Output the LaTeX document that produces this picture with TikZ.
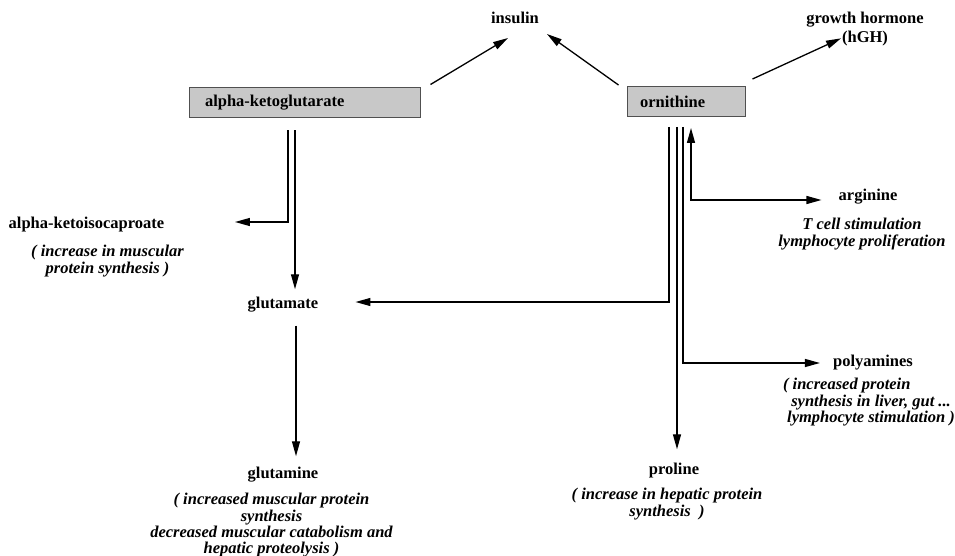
\documentclass[tikz,border=0pt]{standalone}
\usepackage{fontspec}
\setmainfont{Liberation Serif}
\usetikzlibrary{arrows.meta,positioning}
\definecolor{boxfill}{RGB}{200,200,200}
\definecolor{boxline}{RGB}{80,80,80}

\begin{document}
\begin{tikzpicture}[
  x=1pt, y=-1pt,
  font=\fontsize{16.5}{16.3}\selectfont,
  lbl/.style={inner sep=0pt, font=\fontsize{16.5}{16.3}\selectfont\bfseries},
  note/.style={inner sep=0pt, align=center, font=\fontsize{16.5}{16.3}\selectfont\bfseries\itshape},
  src/.style={draw=boxline, fill=boxfill, line width=1pt, minimum height=30pt, inner ysep=0pt, align=left, font=\fontsize{16.5}{16.3}\selectfont\bfseries},
  ln/.style={line width=1.3pt},
  ar/.style={ln, -{Triangle[length=15pt,width=8pt]}},
  arb/.style={ln, {Triangle[length=15pt,width=8pt]}-{Triangle[length=15pt,width=8pt]}}
]
\useasboundingbox (0,0) rectangle (955,556);

% sources
\node[src, text width=199pt, inner xsep=16pt] (akg) at (304.5,103) {alpha-ketoglutarate};
\node[src, text width=92pt, inner xsep=13pt] (orn) at (686,101.5) {ornithine};

% products
\node[lbl] (ins) at (515,18) {insulin};
\node[lbl, align=center] (hgh) at (865,29) {growth hormone\\[3pt](hGH)};
\node[lbl] (aki) at (86.5,225) {alpha-ketoisocaproate};
\node[note, below=12.5pt of aki, xshift=21pt] (akinote) {( increase in muscular\\protein synthesis )};
\node[lbl] (glu) at (283,305) {glutamate};
\node[lbl] (gln) at (283,475) {glutamine};
\node[note, below=10.5pt of gln, xshift=-11.5pt] (glnnote)
  {( increased muscular protein\\synthesis\\decreased muscular catabolism and\\hepatic proteolysis )};
\node[lbl] (arg) at (868,197) {arginine};
\node[note, below=13.5pt of arg, xshift=-6pt] (argnote) {T cell stimulation\\lymphocyte proliferation};
\node[lbl] (pol) at (873,363) {polyamines};
\node[note, align=left, below=7.5pt of pol, xshift=-4pt] (polnote)
  {( increased protein\\\ \ synthesis in liver, gut ...\\\ lymphocyte stimulation )};
\node[lbl] (pro) at (674,471) {proline};
\node[note, below=9.5pt of pro, xshift=-7pt] (pronote) {( increase in hepatic protein\\synthesis \ )};

% line starts under the boxes
\coordinate (akgL) at ([shift={(-16.5,12)}]akg.south);
\coordinate (akgR) at ([shift={(-9.5,12)}]akg.south);
\coordinate (ornA) at ([shift={(-17,10)}]orn.south);
\coordinate (ornB) at ([shift={(-9,10)}]orn.south);
\coordinate (ornC) at ([shift={(-3,10)}]orn.south);
\coordinate (ornD) at ([shift={(5,11)}]orn.south);

\draw[ar] ([shift={(10,-3)}]akg.north east) -- ([shift={(-7,14)}]ins.south);
\draw[ar] ([shift={(-8,-1)}]orn.north west) -- ([shift={(32,10)}]ins.south);
\draw[ar] ([shift={(7,-7)}]orn.north east) -- ([shift={(-24,-8)}]hgh.south);

\draw[ar] (akgL) |- ([shift={(70.5,-3)}]aki.east);
\draw[ar] (akgR) -- ([shift={(12,-8)}]glu.north);
\draw[ar] ([shift={(13,13)}]glu.south) -- ([shift={(13,-11)}]gln.north);

\draw[ar] (ornA) |- ([shift={(37,-3)}]glu.east);
\draw[ar] (ornB) -- ([yshift=14pt]ornB |- pro.north);
\draw[ar] (ornC) |- ([xshift=-13pt]pol.west);
\draw[arb] (ornD) |- ([shift={(-17,3)}]arg.west);
\end{tikzpicture}
\end{document}
